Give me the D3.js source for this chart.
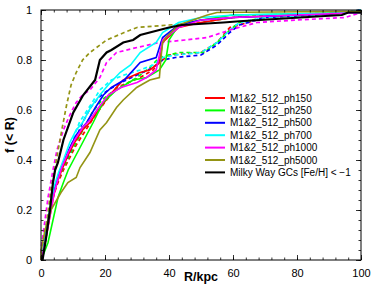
<!DOCTYPE html>
<html>
<head>
<meta charset="utf-8" />
<script src="https://cdn.jsdelivr.net/npm/d3@7"></script>
<style>
html, body { margin: 0; background: #fff; }
svg { font-family: "Liberation Sans", Arial, sans-serif; }
.axis text { font-size: 11px; fill: #000; }
.axis line { stroke: #000; stroke-width: 0.8; }
</style>
</head>
<body>
<div id="chart"></div>
<script>
// cumulative fractions f(<R), [R in kpc, f]
var mwGCs = [[0.5,0],[0.6,0.01],[1.6,0.09],[2.8,0.2],[3.75,0.31],[4.4,0.36],[5.3,0.39],[7,0.48],[10.1,0.59],[13.2,0.66],[16.9,0.72],[18.4,0.8],[20.5,0.83],[22,0.84],[25.7,0.87],[28.8,0.88],[31,0.9],[40,0.93],[44,0.94],[57,0.95],[62,0.955],[81,0.97],[94,0.98],[96,0.99],[100,0.99]];

var ph150 = [[0,0],[1,0.05],[2,0.12],[3,0.19],[4,0.26],[5,0.31],[6.5,0.36],[8.5,0.42],[10.5,0.47],[13,0.52],[15.3,0.55],[18,0.6],[21.5,0.66],[25.7,0.72],[31,0.75],[34,0.76],[37,0.79],[38,0.87],[43,0.93],[50,0.95],[60,0.97],[80,0.98],[100,0.99]];
var ph250 = [[0,0],[1,0.03],[2.2,0.07],[3.75,0.16],[5.3,0.25],[7,0.31],[8.5,0.36],[12.2,0.45],[16.3,0.55],[19.4,0.63],[23.6,0.68],[28.8,0.72],[33,0.73],[37,0.76],[39,0.8],[40,0.88],[43,0.94],[50,0.96],[60,0.98],[100,0.99]];
var ph500 = [[0,0],[1,0.06],[2,0.13],[3,0.21],[4,0.28],[5.5,0.34],[7,0.39],[9,0.45],[11,0.5],[14.3,0.55],[17,0.61],[19.5,0.66],[22,0.69],[26,0.72],[31,0.79],[36,0.81],[38,0.89],[43,0.94],[50,0.96],[60,0.97],[80,0.98],[100,0.99]];
var ph700 = [[0,0],[1,0.06],[2,0.14],[3,0.22],[4,0.29],[5.5,0.35],[7,0.4],[9,0.47],[11,0.52],[13,0.55],[15.5,0.61],[18.4,0.66],[21,0.7],[24.7,0.75],[28,0.78],[31,0.83],[36,0.87],[38,0.91],[43,0.95],[50,0.97],[60,0.98],[100,0.99]];
var ph1000 = [[0,0],[1,0.05],[2,0.12],[3,0.19],[4,0.26],[5,0.31],[6.5,0.37],[8.5,0.43],[10.5,0.48],[13,0.53],[15.3,0.56],[18,0.61],[21,0.66],[25,0.69],[30,0.71],[33,0.73],[36,0.76],[38,0.88],[43,0.93],[50,0.96],[60,0.97],[80,0.98],[100,0.99]];
var ph5000 = [[0,0],[0.1,0.04],[1.25,0.12],[3.1,0.2],[6.25,0.27],[8.4,0.31],[11,0.33],[12.2,0.37],[15.3,0.43],[18.4,0.52],[20.5,0.55],[23.6,0.61],[25.7,0.64],[29.9,0.69],[34,0.72],[37,0.73],[37.5,0.81],[38,0.87],[39,0.89],[43,0.94],[52,0.98],[55,0.99],[100,0.995]];

// dashed counterparts
var ph150d = [[0,0],[0.5,0.04],[1.5,0.11],[2.5,0.18],[3.5,0.24],[5,0.3],[7,0.36],[9,0.41],[11,0.46],[14,0.52],[17,0.58],[20.5,0.64],[23.6,0.69],[31,0.73],[35,0.76],[37,0.79],[40,0.82],[50,0.83],[55,0.87],[59,0.93],[62,0.94],[70,0.97],[85,0.98],[95,0.99],[100,1]];
var ph250d = [[0,0],[0.5,0.04],[1.5,0.11],[2.5,0.18],[3.5,0.25],[5,0.31],[7,0.37],[9,0.42],[11,0.47],[13.5,0.53],[16,0.59],[19,0.64],[22,0.67],[26,0.7],[30,0.73],[34,0.77],[37,0.81],[43,0.83],[51,0.83],[55,0.87],[59,0.92],[62,0.95],[70,0.97],[85,0.98],[95,0.99],[100,1]];
var ph500d = [[0,0],[0.5,0.04],[1.5,0.12],[2.5,0.19],[4,0.27],[5.5,0.33],[7,0.38],[9,0.43],[11,0.49],[13,0.55],[15.5,0.61],[18,0.65],[21,0.68],[25,0.71],[30,0.74],[35,0.77],[38,0.8],[42,0.81],[50,0.82],[55,0.86],[59,0.91],[62,0.94],[70,0.97],[85,0.98],[95,0.99],[100,1]];
var ph700d = [[0,0],[0.5,0.05],[1.5,0.13],[2.5,0.2],[4,0.28],[5.5,0.34],[7,0.39],[9,0.44],[10.5,0.5],[12,0.55],[14,0.59],[16,0.63],[18.4,0.68],[22,0.72],[26,0.74],[31,0.76],[35,0.78],[38,0.81],[42,0.82],[50,0.83],[55,0.87],[59,0.92],[62,0.95],[70,0.97],[85,0.98],[95,0.99],[100,1]];
var ph1000d = [[0,0],[0.1,0.05],[1.25,0.16],[2.2,0.25],[3.75,0.36],[5,0.44],[7,0.52],[9,0.58],[11,0.63],[13,0.66],[15.3,0.68],[18.4,0.73],[20.5,0.79],[23.6,0.83],[30,0.85],[37,0.87],[45,0.88],[52,0.89],[59,0.92],[67.5,0.95],[80,0.96],[95,0.97],[100,0.99]];
var ph5000d = [[0,0],[0.6,0.05],[2.2,0.19],[3.1,0.28],[4.4,0.37],[5.5,0.45],[6.5,0.52],[8,0.62],[9.4,0.7],[11,0.75],[13,0.8],[15.3,0.83],[20.5,0.88],[26,0.91],[30,0.93],[40,0.94],[50,0.95],[60,0.97],[70,0.98],[100,0.99]];

var legendNames = ["M1&2_512_ph150","M1&2_512_ph250","M1&2_512_ph500","M1&2_512_ph700","M1&2_512_ph1000","M1&2_512_ph5000","Milky Way GCs [Fe/H] < \u22121"];
var colors = ["#ff0000","#00ff00","#0000ff","#00ffff","#ff00ff","#949414","#000000"];
var xTicks = [0,20,40,60,80,100];
var yTicks = [0,0.2,0.4,0.6,0.8,1];

var W = 374, H = 293;
var m = {left: 41, right: 13, top: 10, bottom: 33};
var w = W - m.left - m.right, h = H - m.top - m.bottom;

var svg = d3.select("#chart").append("svg").attr("width", W).attr("height", H);
var g = svg.append("g").attr("transform", "translate(" + m.left + "," + m.top + ")");

var x = d3.scaleLinear().domain([0,100]).range([0,w]);
var y = d3.scaleLinear().domain([0,1]).range([h,0]);

var line = d3.line().x(function(d){ return x(d[0]); }).y(function(d){ return y(d[1]); });

var dashed = [ph150d, ph250d, ph500d, ph700d, ph1000d, ph5000d];
var solid = [ph150, ph250, ph500, ph700, ph1000, ph5000, mwGCs];

g.selectAll(".dash").data(dashed).enter().append("path")
  .attr("fill","none")
  .attr("stroke", function(d,i){ return colors[i]; })
  .attr("stroke-width", 1.7)
  .attr("stroke-dasharray", "4,3")
  .attr("d", line);

g.selectAll(".solid").data(solid).enter().append("path")
  .attr("fill","none")
  .attr("stroke", function(d,i){ return colors[i]; })
  .attr("stroke-width", function(d,i){ return i == 6 ? 2.2 : 1.6; })
  .attr("d", line);

// axes, ticks on all four sides pointing inward
var xMinor = d3.range(0,101,4), yMinor = d3.range(0,1.001,0.04);
function addAxis(axis, tr) {
  var a = g.append("g").attr("class","axis").attr("transform", tr).call(axis);
  a.select(".domain").remove();
  return a;
}
addAxis(d3.axisBottom(x).tickValues(xMinor).tickSize(-2.5).tickFormat(""), "translate(0," + h + ")");
addAxis(d3.axisTop(x).tickValues(xMinor).tickSize(-2.5).tickFormat(""), "translate(0,0)");
addAxis(d3.axisLeft(y).tickValues(yMinor).tickSize(-2.5).tickFormat(""), "translate(0,0)");
addAxis(d3.axisRight(y).tickValues(yMinor).tickSize(-2.5).tickFormat(""), "translate(" + w + ",0)");

addAxis(d3.axisBottom(x).tickValues(xTicks).tickSize(-5).tickPadding(9), "translate(0," + h + ")");
addAxis(d3.axisTop(x).tickValues(xTicks).tickSize(-5).tickFormat(""), "translate(0,0)");
addAxis(d3.axisLeft(y).tickValues(yTicks).tickSize(-5).tickPadding(9).tickFormat(d3.format("")), "translate(0,0)");
addAxis(d3.axisRight(y).tickValues(yTicks).tickSize(-5).tickFormat(""), "translate(" + w + ",0)");

g.append("rect").attr("width", w).attr("height", h)
  .attr("fill","none").attr("stroke","#000").attr("stroke-width",1);

// axis titles
svg.append("text").attr("x", m.left + w/2).attr("y", 281)
  .attr("text-anchor","middle").attr("font-weight","bold").attr("font-size", 12.5)
  .text("R/kpc");
svg.append("text").attr("transform","translate(14," + (m.top + h/2) + ") rotate(-90)")
  .attr("text-anchor","middle").attr("font-weight","bold").attr("font-size", 12.5)
  .text("f (< R)");

// legend
var lg = svg.append("g").attr("transform","translate(205,98)");
var row = lg.selectAll("g").data(legendNames).enter().append("g")
  .attr("transform", function(d,i){ return "translate(0," + (i*12.4) + ")"; });
row.append("line").attr("x1",0).attr("x2",20).attr("y1",0).attr("y2",0)
  .attr("stroke", function(d,i){ return colors[i]; }).attr("stroke-width",2);
row.append("text").attr("x",25).attr("y",3.6).attr("font-size",10).text(function(d){ return d; });
</script>
</body>
</html>
